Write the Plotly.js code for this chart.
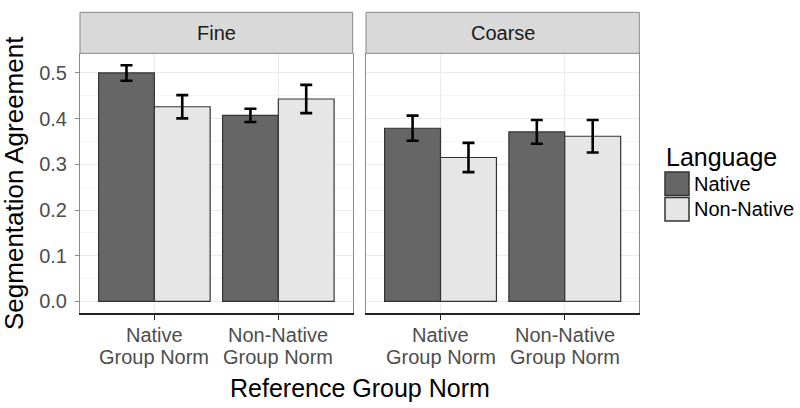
<!DOCTYPE html>
<html>
<head>
<meta charset="utf-8">
<script src="https://cdn.plot.ly/plotly-3.0.1.min.js"></script>
<style>html,body{margin:0;padding:0;background:#fff;}#chart{width:800px;height:408px;}</style>
</head>
<body>
<div id="chart"></div>
<script>
// ---- data ----
const facets = ['Fine', 'Coarse'];
const refNorms = ['Native Group Norm', 'Non-Native Group Norm'];
const refNormLines = [['Native', 'Group Norm'], ['Non-Native', 'Group Norm']];
const languages = ['Native', 'Non-Native'];
const fineNative = [0.500, 0.407];
const fineNativeErr = [0.017, 0.0145];
const fineNonNative = [0.426, 0.443];
const fineNonNativeErr = [0.0255, 0.031];
const coarseNative = [0.379, 0.371];
const coarseNativeErr = [0.0275, 0.026];
const coarseNonNative = [0.315, 0.3615];
const coarseNonNativeErr = [0.032, 0.0355];
const yTicks = [0, 0.1, 0.2, 0.3, 0.4, 0.5];

// ---- style ----
const FONT = 'Liberation Sans, Arial, sans-serif';
const fills = ['#666666', '#e6e6e6'];
const W = 800, H = 408;
const px = v => v / W;
const py = v => (H - v) / H;

function barTrace(name, xs, ys, errs, axis, fill) {
  return {
    type: 'bar', name: name, x: xs, y: ys,
    xaxis: axis.x, yaxis: axis.y,
    offsetgroup: name, showlegend: false,
    marker: {color: fill, line: {color: '#333333', width: 1.2}},
    error_y: {type: 'data', array: errs, visible: true, color: '#000000', thickness: 2.6, width: 6},
    hoverinfo: 'skip'
  };
}

const a1 = {x: 'x', y: 'y'}, a2 = {x: 'x2', y: 'y2'};
const data = [
  barTrace(languages[0], refNorms, fineNative, fineNativeErr, a1, fills[0]),
  barTrace(languages[1], refNorms, fineNonNative, fineNonNativeErr, a1, fills[1]),
  barTrace(languages[0], refNorms, coarseNative, coarseNativeErr, a2, fills[0]),
  barTrace(languages[1], refNorms, coarseNonNative, coarseNonNativeErr, a2, fills[1])
];

const dom1 = [px(80), px(352.7)], dom2 = [px(366), px(639.3)];
const ydom = [py(313.3), py(53.3)];
const yr = [-0.026, 0.543];

function xAxis(dom, anchor) {
  return {
    domain: dom, anchor: anchor, type: 'category', range: [-0.6, 1.6],
    categoryorder: 'array', categoryarray: refNorms,
    showgrid: true, gridcolor: '#ebebeb', gridwidth: 1,
    showline: true, linecolor: '#222222', linewidth: 1.2,
    ticks: 'outside', ticklen: 5, tickcolor: '#222222', tickwidth: 1,
    showticklabels: false,
    zeroline: false, fixedrange: true
  };
}
function yAxis(anchor, showLabels, matches) {
  const ax = {
    domain: ydom, anchor: anchor, range: yr,
    tickvals: yTicks, tickformat: '.1f',
    showgrid: true, gridcolor: '#ebebeb', gridwidth: 1,
    minor: {dtick: 0.05, tick0: 0, showgrid: true, gridcolor: '#f2f2f2', gridwidth: 0.8},
    showline: true, mirror: true, linecolor: '#8a8a8a', linewidth: 1,
    ticks: showLabels ? 'outside' : '', ticklen: 4, tickcolor: '#8a8a8a', tickwidth: 1,
    showticklabels: showLabels, ticklabelstandoff: 4,
    tickfont: {family: FONT, size: 20, color: '#4d4d4d'},
    zeroline: false, fixedrange: true
  };
  if (matches) ax.matches = matches;
  return ax;
}

const shapes = [];
const annotations = [];
[dom1, dom2].forEach((d, i) => {
  shapes.push({type: 'rect', xref: 'paper', yref: 'paper', x0: d[0], x1: d[1], y0: py(53.3), y1: py(12.3),
    fillcolor: '#d9d9d9', line: {color: '#8a8a8a', width: 1}, layer: 'above'});
  annotations.push({xref: 'paper', yref: 'paper', x: (d[0] + d[1]) / 2, y: py(33), xanchor: 'center', yanchor: 'middle',
    text: facets[i], showarrow: false, font: {family: FONT, size: 20, color: '#1a1a1a'}});
});

// category tick labels (two lines, tighter spacing than Plotly's <br>)
const lineY = [334.5, 357];
['x', 'x2'].forEach(xr => {
  refNorms.forEach((cat, ci) => {
    refNormLines[ci].forEach((ln, li) => {
      annotations.push({xref: xr, yref: 'paper', x: cat, y: py(lineY[li]), xanchor: 'center', yanchor: 'middle',
        text: ln, showarrow: false, font: {family: FONT, size: 20, color: '#4d4d4d'}});
    });
  });
});

// axis titles
annotations.push({xref: 'paper', yref: 'paper', x: (dom1[0] + dom2[1]) / 2, y: py(388), xanchor: 'center', yanchor: 'middle',
  text: 'Reference Group Norm', showarrow: false, font: {family: FONT, size: 25, color: '#000000'}});
annotations.push({xref: 'paper', yref: 'paper', x: px(14), y: py(183), xanchor: 'center', yanchor: 'middle', textangle: -90,
  text: 'Segmentation Agreement', showarrow: false, font: {family: FONT, size: 26, color: '#000000'}});

// legend
annotations.push({xref: 'paper', yref: 'paper', x: px(664), y: py(157), xanchor: 'left', yanchor: 'middle',
  text: 'Language', showarrow: false, font: {family: FONT, size: 25, color: '#000000'}});
const keyTops = [172, 197.5];
languages.forEach((lang, i) => {
  const t = keyTops[i];
  shapes.push({type: 'rect', xref: 'paper', yref: 'paper', x0: px(665), x1: px(689), y0: py(t + 23.5), y1: py(t),
    fillcolor: fills[i], line: {color: '#333333', width: 1.5}});
  annotations.push({xref: 'paper', yref: 'paper', x: px(692), y: py(t + 12), xanchor: 'left', yanchor: 'middle',
    text: lang, showarrow: false, font: {family: FONT, size: 20, color: '#000000'}});
});

const layout = {
  width: W, height: H,
  margin: {l: 0, r: 0, t: 0, b: 0},
  paper_bgcolor: '#ffffff', plot_bgcolor: '#ffffff',
  barmode: 'group', bargap: 0.1, bargroupgap: 0,
  showlegend: false,
  xaxis: xAxis(dom1, 'y'),
  xaxis2: xAxis(dom2, 'y2'),
  yaxis: yAxis('x', true),
  yaxis2: yAxis('x2', false, 'y'),
  shapes: shapes,
  annotations: annotations,
  font: {family: FONT}
};

Plotly.newPlot('chart', data, layout, {displayModeBar: false, staticPlot: true});
</script>
</body>
</html>
